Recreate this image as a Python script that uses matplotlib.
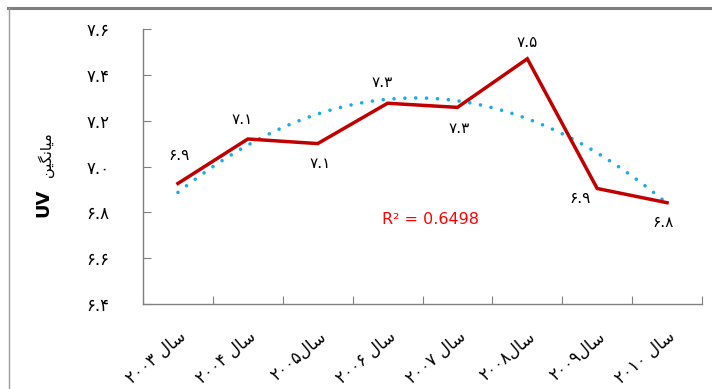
import numpy as np
import matplotlib
matplotlib.use("Agg")
import matplotlib.pyplot as plt
from matplotlib.lines import Line2D

plt.rcParams['font.family'] = ['DejaVu Sans']

# Persian digits
FA = str.maketrans("0123456789", "۰۱۲۳۴۵۶۷۸۹")

def fa_num(v, fmt="{:.1f}"):
    return fmt.format(v).translate(FA)

# Year labels ("سال" pre-shaped in visual order)
SAL = "ﻝﺎﺳ"
years = ["2003", "2004", "2005", "2006", "2007", "2008", "2009", "2010"]
year_gap = [" ", " ", "", " ", " ", "", "", " "]
uv_values = [6.926, 7.12, 7.10, 7.276, 7.258, 7.47, 6.904, 6.842]
y_ticks = [6.4, 6.6, 6.8, 7.0, 7.2, 7.4, 7.6]
r2_text = "R² = 0.6498"
ylabel_main = "UV"
ylabel_fa = "ﻦﯿﮕﻧﺎﯿﻣ"

# label offsets in points (dx, dy)
label_offsets = [(1, 20), (-4, 14), (2, -14), (-4, 15), (1, -15), (0, 12), (-12, -7), (-3, -14)]

W, H, DPI = 712, 389, 100
fig = plt.figure(figsize=(W / DPI, H / DPI), dpi=DPI)
fig.patch.set_facecolor("white")

# outer chart frame (top and left edges visible)
fig.add_artist(Line2D([8 / W, 1], [1 - 7.5 / H, 1 - 7.5 / H], color="#7f7f7f", lw=2.2,
                      transform=fig.transFigure))
fig.add_artist(Line2D([8.5 / W, 8.5 / W], [0, 1 - 7.5 / H], color="#9a9a9a", lw=1.0,
                      transform=fig.transFigure))

ax = fig.add_axes([143 / W, 1 - 304 / H, (702 - 143) / W, (304 - 29) / H])
x = np.arange(len(years))

# quadratic trend line
coef = np.polyfit(x, uv_values, 2)
xs = np.linspace(0, len(years) - 1, 200)
ax.plot(xs, np.polyval(coef, xs), color="#1AABEB", lw=2.6,
        linestyle=(0, (0.01, 3.0)), dash_capstyle="round", zorder=2)

ax.plot(x, uv_values, color="#C00000", lw=2.5, solid_joinstyle="miter", zorder=3)

for xi, v, (dx, dy) in zip(x, uv_values, label_offsets):
    ax.annotate(fa_num(v), (xi, v), xytext=(dx, dy), textcoords="offset points",
                ha="center", va="center", fontsize=11, color="black")

ax.text(0.515, 0.306, r2_text, transform=ax.transAxes, color="#FF0000",
        fontsize=11.5, ha="center", va="center")

ax.set_xlim(-0.5, len(years) - 0.5)
ax.set_ylim(y_ticks[0], y_ticks[-1])
ax.set_yticks(y_ticks)
ax.set_yticklabels([fa_num(t) for t in y_ticks], fontsize=12)
ax.set_xticks(np.arange(len(years) + 1) - 0.5, minor=False)
ax.set_xticklabels([])
ax.set_xticks(x, minor=True)
ax.set_xticklabels([y.translate(FA) + g + SAL for y, g in zip(years, year_gap)],
                   minor=True, rotation=40, ha="right", va="top",
                   rotation_mode="anchor", fontsize=12)
ax.tick_params(axis="x", which="minor", length=0, pad=17)
ax.tick_params(axis="x", which="major", direction="in", length=6, color="#808080")
ax.tick_params(axis="y", direction="in", length=6, color="#808080", pad=24)

for s in ("top", "right"):
    ax.spines[s].set_visible(False)
for s in ("left", "bottom"):
    ax.spines[s].set_color("#808080")
    ax.spines[s].set_linewidth(1.0)

fig.text(43 / W, 1 - 203 / H, ylabel_main, rotation=90, fontsize=13, fontweight="bold",
         ha="center", va="center")
fig.text(46 / W, 1 - 155 / H, ylabel_fa, rotation=90, fontsize=10.5,
         ha="center", va="center")

fig.savefig("out.png", dpi=DPI, facecolor="white")
